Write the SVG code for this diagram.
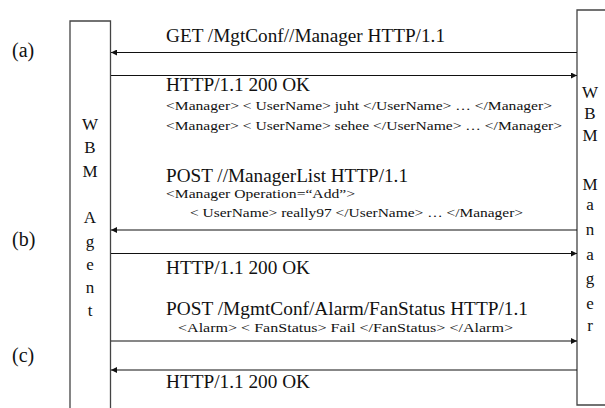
<svg xmlns="http://www.w3.org/2000/svg" width="605" height="408" viewBox="0 0 605 408">
<defs>
<marker id="ah" viewBox="0 0 10 10" refX="10" refY="5" markerWidth="7" markerHeight="6" markerUnits="userSpaceOnUse" orient="auto">
<path d="M0,0 L10,5 L0,10 z" fill="#111"/>
</marker>
</defs>
<style>
text{font-family:"Liberation Serif","Times New Roman",serif;fill:#111}
.big{font-size:18px}
.small{font-size:13.5px}
.let{font-size:17px;text-anchor:middle}
.lab{font-size:20px}
.box{fill:#fff;stroke:#444;stroke-width:1.3}
.msg{stroke:#111;stroke-width:1.1;fill:none}
</style>
<rect width="605" height="408" fill="#fff"/>
<g id="agent">
<path class="box" d="M70,412 L70,21 L110.5,21 L110.5,412"/>
<text class="let" x="90" y="130">W</text>
<text class="let" x="90" y="153.3">B</text>
<text class="let" x="90" y="176.6">M</text>
<text class="let" x="90" y="223.2">A</text>
<text class="let" x="90" y="246.5">g</text>
<text class="let" x="90" y="269.8">e</text>
<text class="let" x="90" y="293.1">n</text>
<text class="let" x="90" y="316.4">t</text>
</g>
<g id="manager">
<path class="box" d="M610,10 L577,10 L577,405 L610,405"/>
<text class="let" x="590" y="98">W</text>
<text class="let" x="590" y="119">B</text>
<text class="let" x="590" y="141">M</text>
<text class="let" x="590" y="190">M</text>
<text class="let" x="590" y="210">a</text>
<text class="let" x="590" y="235">n</text>
<text class="let" x="590" y="260">a</text>
<text class="let" x="590" y="284">g</text>
<text class="let" x="590" y="309">e</text>
<text class="let" x="590" y="331">r</text>
</g>
<g id="labels">
<text class="lab" x="12" y="57">(a)</text>
<text class="lab" x="12" y="246">(b)</text>
<text class="lab" x="12" y="362">(c)</text>
</g>
<g id="connectors">
<line class="msg" x1="577" y1="52.5" x2="111" y2="52.5" marker-end="url(#ah)"/>
<line class="msg" x1="111" y1="75.5" x2="577" y2="75.5" marker-end="url(#ah)"/>
<line class="msg" x1="577" y1="230" x2="111" y2="230" marker-end="url(#ah)"/>
<line class="msg" x1="111" y1="253.5" x2="577" y2="253.5" marker-end="url(#ah)"/>
<line class="msg" x1="111" y1="341" x2="577" y2="341" marker-end="url(#ah)"/>
<line class="msg" x1="577" y1="370" x2="111" y2="370" marker-end="url(#ah)"/>
</g>
<g id="messages">
<text class="big" x="166" y="42" textLength="279" lengthAdjust="spacingAndGlyphs">GET /MgtConf//Manager HTTP/1.1</text>
<text class="big" x="166" y="91" textLength="144" lengthAdjust="spacingAndGlyphs">HTTP/1.1 200 OK</text>
<text class="small" x="166" y="110" textLength="386" lengthAdjust="spacingAndGlyphs">&lt;Manager&gt; &lt; UserName&gt; juht &lt;/UserName&gt; … &lt;/Manager&gt;</text>
<text class="small" x="166" y="130" textLength="396" lengthAdjust="spacingAndGlyphs">&lt;Manager&gt; &lt; UserName&gt; sehee &lt;/UserName&gt; … &lt;/Manager&gt;</text>
<text class="big" x="166" y="182" textLength="242" lengthAdjust="spacingAndGlyphs">POST //ManagerList HTTP/1.1</text>
<text class="small" x="166" y="198" textLength="189" lengthAdjust="spacingAndGlyphs">&lt;Manager Operation=“Add”&gt;</text>
<text class="small" x="190" y="217" textLength="333" lengthAdjust="spacingAndGlyphs">&lt; UserName&gt; really97 &lt;/UserName&gt; … &lt;/Manager&gt;</text>
<text class="big" x="166" y="274" textLength="144" lengthAdjust="spacingAndGlyphs">HTTP/1.1 200 OK</text>
<text class="big" x="166" y="315" textLength="362" lengthAdjust="spacingAndGlyphs">POST /MgmtConf/Alarm/FanStatus HTTP/1.1</text>
<text class="small" x="178" y="332" textLength="335" lengthAdjust="spacingAndGlyphs">&lt;Alarm&gt; &lt; FanStatus&gt; Fail &lt;/FanStatus&gt; &lt;/Alarm&gt;</text>
<text class="big" x="166" y="388" textLength="144" lengthAdjust="spacingAndGlyphs">HTTP/1.1 200 OK</text>
</g>
</svg>
